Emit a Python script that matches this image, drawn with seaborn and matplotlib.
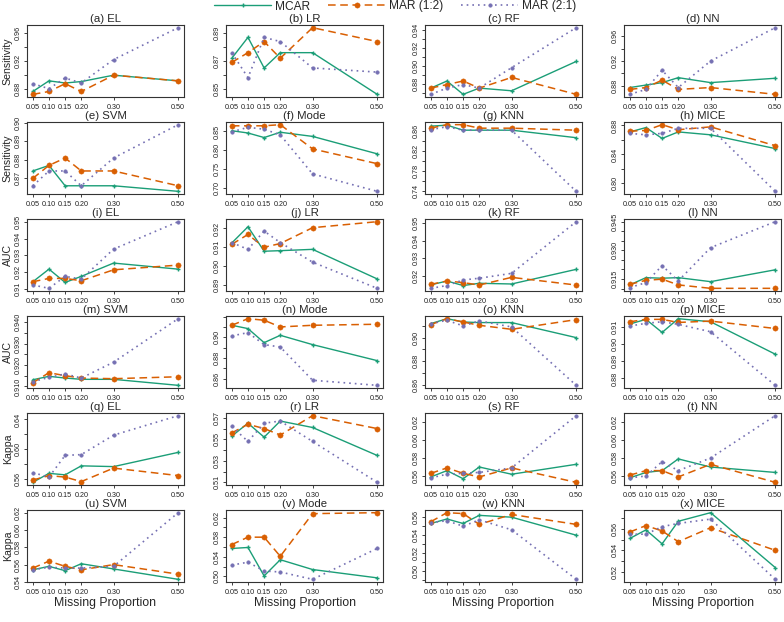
import numpy as np
import pandas as pd
import seaborn as sns
import matplotlib.pyplot as plt
from matplotlib.lines import Line2D
from matplotlib.ticker import FixedLocator, MultipleLocator

props = [0.05, 0.10, 0.15, 0.20, 0.30, 0.50]
models = ["EL", "LR", "RF", "NN", "SVM", "Mode", "KNN", "MICE"]
metrics = ["Sensitivity", "AUC", "Kappa"]
mechs = ["MCAR", "MAR (1:2)", "MAR (2:1)"]

# values, one list per model (EL, LR, RF, NN, SVM, Mode, KNN, MICE)
sens_mcar = [
    [0.877, 0.892, 0.889, 0.891, 0.900, 0.892],
    [0.872, 0.887, 0.865, 0.876, 0.876, 0.846],
    [0.875, 0.883, 0.868, 0.875, 0.872, 0.905],
    [0.877, 0.881, 0.885, 0.893, 0.885, 0.892],
    [0.874, 0.877, 0.866, 0.866, 0.866, 0.863],
    [0.852, 0.846, 0.834, 0.848, 0.837, 0.791],
    [0.869, 0.871, 0.861, 0.861, 0.861, 0.846],
    [0.871, 0.877, 0.862, 0.871, 0.867, 0.848],
]
sens_mar12 = [
    [0.873, 0.877, 0.888, 0.877, 0.900, 0.892],
    [0.869, 0.876, 0.884, 0.872, 0.894, 0.884],
    [0.875, 0.879, 0.883, 0.875, 0.887, 0.868],
    [0.874, 0.877, 0.889, 0.874, 0.877, 0.866],
    [0.870, 0.877, 0.881, 0.874, 0.874, 0.866],
    [0.865, 0.865, 0.865, 0.868, 0.804, 0.765],
    [0.865, 0.872, 0.872, 0.865, 0.865, 0.861],
    [0.872, 0.873, 0.881, 0.874, 0.878, 0.852],
]
sens_mar21 = [
    [0.888, 0.881, 0.896, 0.889, 0.922, 0.967],
    [0.876, 0.858, 0.887, 0.884, 0.865, 0.862],
    [0.868, 0.875, 0.879, 0.875, 0.898, 0.943],
    [0.866, 0.874, 0.905, 0.877, 0.920, 0.974],
    [0.866, 0.874, 0.874, 0.866, 0.881, 0.899],
    [0.849, 0.861, 0.856, 0.841, 0.738, 0.692],
    [0.862, 0.868, 0.861, 0.861, 0.861, 0.739],
    [0.869, 0.867, 0.869, 0.876, 0.876, 0.789],
]
auc_mcar = [
    [0.9143, 0.9218, 0.9139, 0.9175, 0.9254, 0.9218],
    [0.9123, 0.9209, 0.9079, 0.9082, 0.9089, 0.8932],
    [0.9147, 0.9169, 0.9143, 0.9156, 0.9152, 0.9236],
    [0.9119, 0.9157, 0.9154, 0.9157, 0.9136, 0.9198],
    [0.9131, 0.9147, 0.9139, 0.9133, 0.9133, 0.9105],
    [0.9116, 0.9084, 0.8948, 0.9019, 0.8929, 0.8774],
    [0.9118, 0.9160, 0.9132, 0.9127, 0.9127, 0.9000],
    [0.9116, 0.9143, 0.9067, 0.9147, 0.9129, 0.8941],
]
auc_mar12 = [
    [0.9143, 0.9163, 0.9163, 0.9149, 0.9214, 0.9242],
    [0.9116, 0.9168, 0.9100, 0.9120, 0.9204, 0.9236],
    [0.9150, 0.9169, 0.9160, 0.9146, 0.9190, 0.9146],
    [0.9122, 0.9143, 0.9149, 0.9119, 0.9101, 0.9101],
    [0.9117, 0.9164, 0.9150, 0.9139, 0.9136, 0.9145],
    [0.9116, 0.9180, 0.9165, 0.9100, 0.9116, 0.9126],
    [0.9110, 0.9160, 0.9132, 0.9104, 0.9070, 0.9152],
    [0.9129, 0.9143, 0.9143, 0.9125, 0.9133, 0.9090],
]
auc_mar21 = [
    [0.9124, 0.9104, 0.9175, 0.9159, 0.9337, 0.9500],
    [0.9125, 0.9089, 0.9186, 0.9125, 0.9021, 0.8882],
    [0.9127, 0.9143, 0.9175, 0.9185, 0.9213, 0.9510],
    [0.9105, 0.9131, 0.9220, 0.9140, 0.9314, 0.9450],
    [0.9122, 0.9142, 0.9158, 0.9139, 0.9213, 0.9416],
    [0.9013, 0.9045, 0.8929, 0.8906, 0.8584, 0.8535],
    [0.9118, 0.9146, 0.9099, 0.9141, 0.9090, 0.8597],
    [0.9104, 0.9120, 0.9129, 0.9114, 0.9071, 0.8760],
]
kappa_mcar = [
    [0.556, 0.568, 0.566, 0.578, 0.577, 0.596],
    [0.553, 0.565, 0.552, 0.567, 0.561, 0.535],
    [0.559, 0.566, 0.557, 0.570, 0.562, 0.573],
    [0.558, 0.564, 0.566, 0.579, 0.570, 0.564],
    [0.554, 0.558, 0.553, 0.561, 0.555, 0.543],
    [0.557, 0.559, 0.501, 0.534, 0.514, 0.497],
    [0.553, 0.558, 0.553, 0.562, 0.560, 0.540],
    [0.551, 0.559, 0.546, 0.567, 0.575, 0.524],
]
kappa_mar12 = [
    [0.559, 0.565, 0.563, 0.557, 0.575, 0.565],
    [0.556, 0.564, 0.560, 0.554, 0.572, 0.560],
    [0.563, 0.569, 0.563, 0.559, 0.569, 0.553],
    [0.561, 0.566, 0.566, 0.559, 0.573, 0.553],
    [0.556, 0.564, 0.558, 0.554, 0.560, 0.549],
    [0.565, 0.580, 0.580, 0.541, 0.628, 0.630],
    [0.555, 0.565, 0.564, 0.552, 0.563, 0.552],
    [0.557, 0.563, 0.558, 0.548, 0.561, 0.540],
]
kappa_mar21 = [
    [0.569, 0.563, 0.592, 0.593, 0.619, 0.645],
    [0.562, 0.548, 0.565, 0.567, 0.548, 0.510],
    [0.558, 0.562, 0.563, 0.564, 0.569, 0.627],
    [0.558, 0.560, 0.576, 0.566, 0.580, 0.627],
    [0.554, 0.557, 0.556, 0.556, 0.558, 0.620],
    [0.523, 0.529, 0.511, 0.509, 0.494, 0.557],
    [0.554, 0.556, 0.550, 0.557, 0.546, 0.491],
    [0.555, 0.555, 0.562, 0.565, 0.569, 0.513],
]

all_data = [
    [sens_mcar, sens_mar12, sens_mar21],
    [auc_mcar, auc_mar12, auc_mar21],
    [kappa_mcar, kappa_mar12, kappa_mar21],
]

# labelled y ticks and tick step for each panel (a..x)
ylabels_at = [
    [0.88, 0.92, 0.96], [0.85, 0.87, 0.89], [0.88, 0.90, 0.92, 0.94], [0.88, 0.92, 0.96],
    [0.87, 0.88, 0.89, 0.90], [0.70, 0.75, 0.80, 0.85], [0.74, 0.78, 0.82, 0.86], [0.80, 0.84, 0.88],
    [0.91, 0.92, 0.93, 0.94, 0.95], [0.89, 0.90, 0.91, 0.92], [0.92, 0.93, 0.94, 0.95], [0.915, 0.930, 0.945],
    [0.910, 0.920, 0.930, 0.940], [0.86, 0.88, 0.90], [0.86, 0.88, 0.90], [0.88, 0.89, 0.90, 0.91],
    [0.56, 0.60, 0.64], [0.51, 0.53, 0.55, 0.57], [0.56, 0.58, 0.60, 0.62], [0.56, 0.58, 0.60, 0.62],
    [0.54, 0.56, 0.58, 0.60, 0.62], [0.50, 0.54, 0.58, 0.62], [0.50, 0.52, 0.54, 0.56], [0.52, 0.54, 0.56],
]
ytick_step = [0.02, 0.01, 0.01, 0.02, 0.01, 0.05, 0.02, 0.02,
              0.01, 0.01, 0.01, 0.005, 0.005, 0.01, 0.01, 0.01,
              0.02, 0.01, 0.02, 0.02, 0.02, 0.02, 0.01, 0.01]

sns.set_theme(style="ticks")
plt.rcParams['font.family'] = ['Liberation Sans', 'DejaVu Sans']

colors = ["#1B9E77", "#D95F02", "#7570B3"]
styles = [
    dict(linestyle="-", marker="+", markersize=3.2, markeredgewidth=1.0, linewidth=1.0),
    dict(linestyle=(0, (5, 3)), marker="o", markersize=3.8, markeredgewidth=0.3, linewidth=1.1),
    dict(linestyle=(0, (1, 2.4)), marker="o", markersize=2.6, markeredgewidth=0.3, linewidth=1.2),
]

W, H = 784, 622
fig = plt.figure(figsize=(W / 100, H / 100), dpi=100)
letters = "abcdefghijklmnopqrstuvwx"

for idx in range(24):
    r, c = divmod(idx, 4)
    m = r // 2
    mod = (r % 2) * 4 + c
    left = 27 + 199 * c
    top = 25 + 97 * r
    w, h = 157, 72
    ax = fig.add_axes([left / W, 1 - (top + h) / H, w / W, h / H])

    vals_all = []
    for s in range(3):
        vals = all_data[m][s][mod]
        vals_all += vals
        sns.lineplot(x=props, y=vals, ax=ax, color=colors[s], estimator=None,
                     markeredgecolor=colors[s], markerfacecolor=colors[s], **styles[s])

    lo, hi = min(vals_all), max(vals_all)
    pad = 0.04 * (hi - lo)
    ax.set_ylim(lo - pad, hi + pad)
    ax.set_xlim(0.05 - 0.018, 0.50 + 0.018)

    ax.set_xticks(props)
    ax.set_xticklabels(["0.05", "0.10", "0.15", "0.20", "0.30", "0.50"], fontsize=5.2)
    labs = ylabels_at[idx]
    ax.yaxis.set_major_locator(FixedLocator(labs))
    ax.set_yticklabels([f"{v:.3f}" if ytick_step[idx] == 0.005 else f"{v:.2f}" for v in labs],
                       fontsize=5.2, rotation=90, va="center")
    ax.yaxis.set_minor_locator(MultipleLocator(ytick_step[idx]))
    ax.tick_params(axis="both", which="both", direction="out", length=2.5, width=0.6,
                   pad=1.2, colors="#222222")
    ax.tick_params(axis="x", pad=2.5)

    for sp in ax.spines.values():
        sp.set_visible(True)
        sp.set_linewidth(0.8)
        sp.set_color("#333333")

    ax.set_title(f"({letters[idx]}) {models[mod]}", fontsize=8.2, pad=2.5)
    ax.set_xlabel("Missing Proportion" if r == 5 else "", fontsize=8.8, labelpad=1)
    ax.set_ylabel(metrics[m] if c == 0 else "", fontsize=7.6, labelpad=1.5)

handles = [Line2D([0], [0], color=colors[s], markeredgecolor=colors[s],
                  markerfacecolor=colors[s], **styles[s]) for s in range(3)]
fig.legend(handles, mechs, loc="center", bbox_to_anchor=(0.504, 1 - 6.5 / H), ncol=3,
           frameon=False, fontsize=8.6, handlelength=4.8, handletextpad=0.3,
           columnspacing=1.5, numpoints=1)

fig.savefig("out.png", dpi=100)
